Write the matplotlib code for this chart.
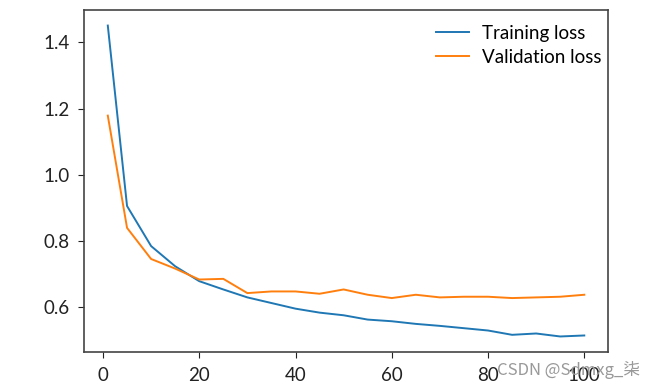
import matplotlib
matplotlib.use("Agg")
import matplotlib.pyplot as plt

epochs = [1, 5, 10, 15, 20, 25, 30, 35, 40, 45, 50, 55, 60, 65, 70, 75, 80, 85, 90, 95, 100]
train_loss = [1.451, 0.906, 0.785, 0.724, 0.679, 0.654, 0.630, 0.613, 0.596, 0.584, 0.576,
              0.563, 0.558, 0.550, 0.544, 0.537, 0.530, 0.517, 0.521, 0.512, 0.515]
val_loss = [1.179, 0.840, 0.746, 0.717, 0.684, 0.686, 0.643, 0.648, 0.648, 0.641, 0.654,
            0.638, 0.628, 0.638, 0.630, 0.632, 0.632, 0.628, 0.630, 0.632, 0.638]
labels = ["Training loss", "Validation loss"]
watermark = "CSDN @Sdmxg_柒"

plt.rcParams['font.family'] = ['Lato', 'DejaVu Sans']
fig = plt.figure(figsize=(6.56, 3.91), dpi=100)
ax = fig.add_axes([0.128, 0.0997, 0.799, 0.8747])
ax.plot(epochs, train_loss, color='#1f77b4', lw=1.4, label=labels[0])
ax.plot(epochs, val_loss, color='#ff7f0e', lw=1.4, label=labels[1])
ax.set_xticks([0, 20, 40, 60, 80, 100])
ax.set_yticks([0.6, 0.8, 1.0, 1.2, 1.4])
ax.tick_params(labelsize=13.5, colors='#222222', length=4)
ax.tick_params(axis='y', pad=6)
ax.tick_params(axis='x', pad=7)
for s in ax.spines.values():
    s.set_color('#444444')
    s.set_linewidth(1.2)
ax.legend(frameon=False, loc='upper right', bbox_to_anchor=(1.006, 0.985), fontsize=13.5,
          handlelength=1.8, handletextpad=0.7, borderaxespad=0.1, labelspacing=0.4)
fig.text(0.976, 0.03, watermark, ha='right', va='bottom', fontsize=12,
         color='#999999', family=['Noto Sans CJK SC', 'DejaVu Sans'])
fig.savefig("out.png", dpi=100)
